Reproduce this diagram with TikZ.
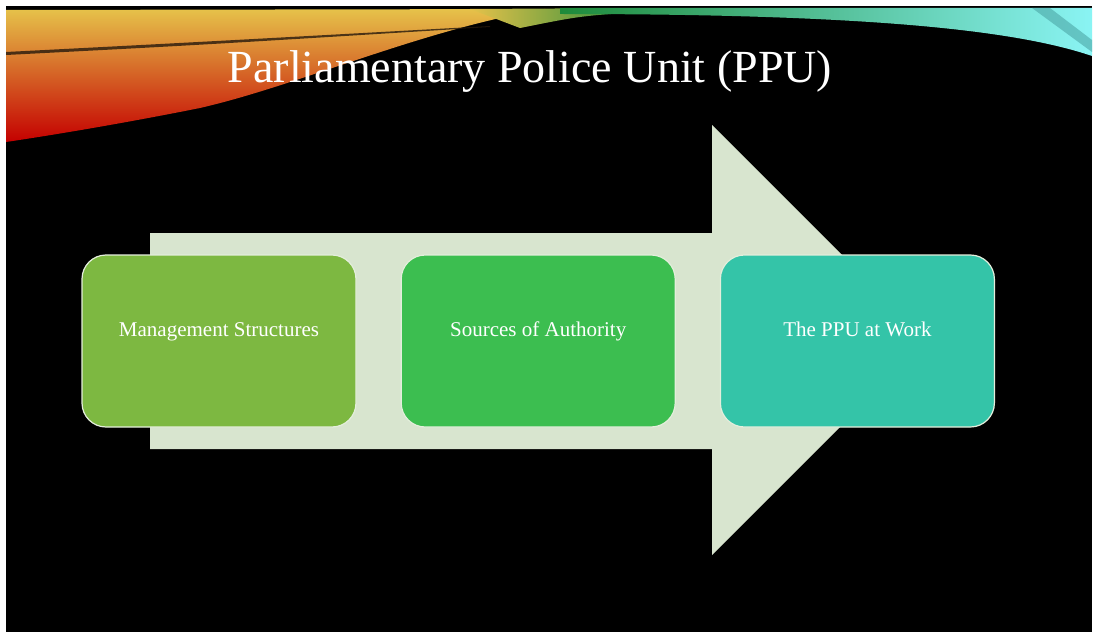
\documentclass[tikz,border=0pt]{standalone}
\usepackage{fontspec}
\setmainfont{Liberation Serif}
\usetikzlibrary{positioning}

\definecolor{arrowfill}{HTML}{D8E5CF}
\definecolor{boxedge}{HTML}{E4EEDC}
\definecolor{mgmtgreen}{HTML}{7DB841}
\definecolor{authgreen}{HTML}{3CBE50}
\definecolor{workteal}{HTML}{34C4A8}
\definecolor{swooshyellow}{HTML}{E6C24A}
\definecolor{swooshorange}{HTML}{E2700E}
\definecolor{swooshred}{HTML}{C40000}
\definecolor{swooshgreen}{HTML}{1E8A3A}
\definecolor{swooshcyan}{HTML}{8AF4F4}

\begin{document}
\begin{tikzpicture}[
		x=1pt,y=-1pt,
		node distance=0pt and 44pt,
		stagebox/.style={draw=boxedge,line width=1.2pt,rounded corners=24pt,
			minimum width=274pt,minimum height=172pt,text=white,
			font=\fontsize{21}{25}\selectfont,text height=15pt,text depth=24pt}
		]
		\useasboundingbox (0,0) rectangle (1098,634);
		\fill[white] (0,0) rectangle (1098,634);
		\fill[black] (6,6) rectangle (1092,632);
		% swoosh on top
		\shade[top color=swooshyellow,middle color=swooshorange,bottom color=swooshred]
		(6,10) -- (545,9) .. controls (420,30) and (300,85) .. (200,108)
		.. controls (130,122) and (60,134) .. (6,142) -- cycle;
		\fill[black!80!brown,opacity=0.8] (6,52) .. controls (200,42) .. (490,26) -- (490,27) .. controls (200,45) .. (6,55) -- cycle;
		\shade[left color=swooshyellow,right color=swooshgreen]
		(470,9) -- (640,8) -- (640,12) .. controls (580,16) .. (520,28) -- cycle;
		\shade[left color=swooshgreen,right color=swooshcyan]
		(560,8) -- (1092,8) -- (1092,56) .. controls (1010,28) and (850,14) .. (560,14) -- cycle;
		\fill[teal!70,opacity=0.6] (1032,8) -- (1050,8) -- (1092,40) -- (1092,52) -- cycle;
		% big arrow behind the boxes
		\fill[arrowfill] (150,233) -- (712,233) -- (712,125) -- (927,340)
		-- (712,555) -- (712,449) -- (150,449) -- cycle;
		\node[stagebox,fill=mgmtgreen] (mgmt) at (219,341) {Management Structures};
		\node[stagebox,fill=authgreen,right=of mgmt] (auth) {Sources of Authority};
		\node[stagebox,fill=workteal,right=of auth] (work) {The PPU at Work};
		\node[anchor=base,text=white,font=\fontsize{46}{50}\selectfont] (title) at (530,82)
		{Parliamentary Police Unit (PPU)};
	\end{tikzpicture}
\end{document}
